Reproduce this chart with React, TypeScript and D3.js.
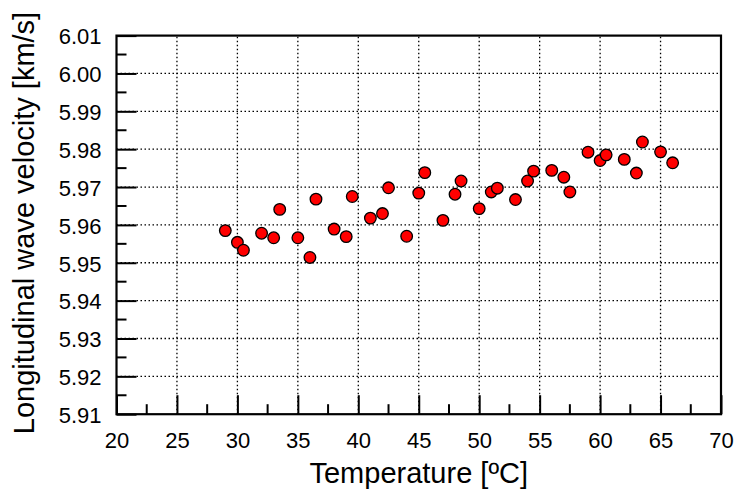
import React, { useEffect, useRef } from 'react';
import * as d3 from 'd3';

// temperature readings [ºC]
const temperature = [
    29, 30, 30.5, 32, 33, 33.5, 35, 36, 36.5, 38, 39, 39.5, 41, 42, 42.5,
    44, 45, 45.5, 47, 48, 48.5, 50, 51, 51.5, 53, 54, 54.5, 56, 57, 57.5,
    59, 60, 60.5, 62, 63, 63.5, 65, 66,
];

// longitudinal wave velocity [km/s]
const velocity = [
    5.9585, 5.9554, 5.9533, 5.9578, 5.9566, 5.9641, 5.9566, 5.9514, 5.9668, 5.9589,
    5.9569, 5.9675, 5.9618, 5.9630, 5.9698, 5.9570, 5.9684, 5.9738, 5.9612, 5.9681,
    5.9716, 5.9643, 5.9687, 5.9697, 5.9667, 5.9716, 5.9742, 5.9744, 5.9726, 5.9687,
    5.9792, 5.9770, 5.9785, 5.9773, 5.9737, 5.9819, 5.9793, 5.9764,
];

const xTicks = [20, 25, 30, 35, 40, 45, 50, 55, 60, 65, 70];
const yTicks = [5.91, 5.92, 5.93, 5.94, 5.95, 5.96, 5.97, 5.98, 5.99, 6.0, 6.01];

const App = () => {
    const svgRef = useRef(null);

    useEffect(() => {
        const svg = d3.select(svgRef.current);
        const width = 737;
        const height = 489;
        const margin = { top: 35.6, right: 16, bottom: 74.8, left: 116.5 };
        const font = 'Liberation Sans, Arial, sans-serif';

        svg.selectAll('*').remove();

        const x = d3.scaleLinear()
            .domain([20, 70])
            .range([margin.left, width - margin.right]);
        const y = d3.scaleLinear()
            .domain([5.91, 6.01])
            .range([height - margin.bottom, margin.top]);

        const [x0, x1] = x.range();
        const [y0, y1] = y.range();

        // dotted grid on the major ticks
        const grid = svg.append('g')
            .attr('stroke', '#000')
            .attr('stroke-width', 1.3)
            .attr('stroke-dasharray', '1.5,2.5');
        grid.selectAll('.vgrid')
            .data(xTicks.slice(1, -1))
            .enter()
            .append('line')
            .attr('x1', d => x(d)).attr('x2', d => x(d))
            .attr('y1', y0).attr('y2', y1);
        grid.selectAll('.hgrid')
            .data(yTicks.slice(1, -1))
            .enter()
            .append('line')
            .attr('x1', x0).attr('x2', x1)
            .attr('y1', d => y(d)).attr('y2', d => y(d));

        // bottom axis, ticks pointing inward
        const xAxis = d3.axisBottom(x)
            .tickValues(xTicks)
            .tickSize(-19)
            .tickFormat(d3.format('d'));
        const gx = svg.append('g')
            .attr('transform', `translate(0,${y0})`)
            .call(xAxis);
        gx.select('.domain').remove();
        gx.selectAll('line').attr('stroke-width', 2);
        gx.selectAll('text')
            .attr('y', 34)
            .attr('dy', 0)
            .attr('font-family', font)
            .attr('font-size', 22)
            .attr('fill', '#000');

        const xMinor = d3.range(22.5, 70, 5);
        svg.append('g')
            .selectAll('line')
            .data(xMinor)
            .enter()
            .append('line')
            .attr('x1', d => x(d)).attr('x2', d => x(d))
            .attr('y1', y0).attr('y2', y0 - 10)
            .attr('stroke', '#000')
            .attr('stroke-width', 2);

        // left axis
        const yAxis = d3.axisLeft(y)
            .tickValues(yTicks)
            .tickSize(-20)
            .tickPadding(15)
            .tickFormat(d3.format('.2f'));
        const gy = svg.append('g')
            .attr('transform', `translate(${x0},0)`)
            .call(yAxis);
        gy.select('.domain').remove();
        gy.selectAll('line').attr('stroke-width', 2);
        gy.selectAll('text')
            .attr('x', -15)
            .attr('dy', '0.38em')
            .attr('font-family', font)
            .attr('font-size', 22)
            .attr('fill', '#000');

        const yMinor = d3.range(0, 10).map(i => 5.915 + i * 0.01);
        svg.append('g')
            .selectAll('line')
            .data(yMinor)
            .enter()
            .append('line')
            .attr('x1', x0).attr('x2', x0 + 10)
            .attr('y1', d => y(d)).attr('y2', d => y(d))
            .attr('stroke', '#000')
            .attr('stroke-width', 2);

        // frame
        svg.append('rect')
            .attr('x', x0)
            .attr('y', y1)
            .attr('width', x1 - x0)
            .attr('height', y0 - y1)
            .attr('fill', 'none')
            .attr('stroke', '#000')
            .attr('stroke-width', 2.2);

        // data points
        svg.selectAll('.pt')
            .data(temperature.map((t, i) => [t, velocity[i]]))
            .enter()
            .append('circle')
            .attr('class', 'pt')
            .attr('cx', d => x(d[0]))
            .attr('cy', d => y(d[1]))
            .attr('r', 5.8)
            .attr('fill', '#ff0000')
            .attr('stroke', '#000')
            .attr('stroke-width', 1.3);

        // axis titles
        svg.append('text')
            .attr('x', (x0 + x1) / 2)
            .attr('y', 483)
            .attr('text-anchor', 'middle')
            .attr('font-family', font)
            .attr('font-size', 29)
            .attr('fill', '#000')
            .text('Temperature [ºC]');

        svg.append('text')
            .attr('transform', `translate(33.5,223) rotate(-90)`)
            .attr('text-anchor', 'middle')
            .attr('font-family', font)
            .attr('font-size', 29)
            .attr('fill', '#000')
            .text('Longitudinal wave velocity [km/s]');
    }, []);

    return (
        <svg
            ref={svgRef}
            width={737}
            height={489}
            style={{ position: 'absolute', left: 0, top: 0, background: '#fff' }}
        ></svg>
    );
};

export default App;
